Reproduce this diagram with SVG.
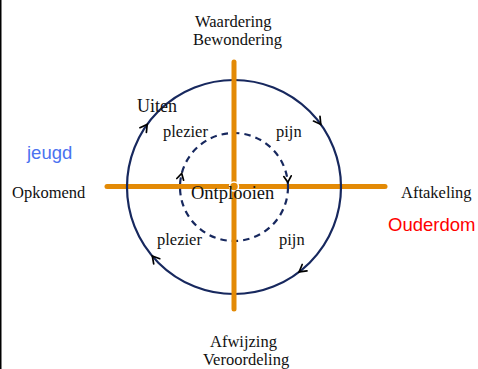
<svg xmlns="http://www.w3.org/2000/svg" width="478" height="369" viewBox="0 0 478 369">
<style>
.t{font-family:"Liberation Serif","Times New Roman",serif;font-size:16.5px;fill:#111}
.s{font-family:"Liberation Sans",Arial,sans-serif;font-size:18.5px}
.axis{stroke:#E38A06;stroke-width:5;stroke-linecap:round;fill:none}
.ring{stroke:#17285E;stroke-width:2.2;fill:none}
.dash{stroke:#17285E;stroke-width:2.2;fill:none;stroke-dasharray:6.5 5}
.arr{stroke:#000;stroke-width:1.7;fill:none;stroke-linecap:round;stroke-linejoin:miter}
</style>
<rect x="0" y="0" width="478" height="369" fill="#fff"/>
<line x1="0.75" y1="0" x2="0.75" y2="369" stroke="#000" stroke-width="1.5"/>
<g id="connectors">
  <line class="axis" x1="107" y1="186.5" x2="385" y2="186.5"/>
  <circle class="ring" cx="234" cy="187" r="107"/>
  <circle class="dash" cx="234" cy="187" r="54"/>
  <line class="axis" x1="234" y1="62" x2="234" y2="309"/>
  <polyline class="arr" points="139.9,127.7 147.2,124.4 146.4,132.4"/>
  <polyline class="arr" points="320.0,116.4 320.8,124.4 313.5,121.1"/>
  <polyline class="arr" points="307.0,270.9 299.1,271.9 302.2,264.5"/>
  <polyline class="arr" points="153.7,263.9 152.3,256.0 159.8,258.7"/>
  <polyline class="arr" points="291.2,175.8 287.8,182.3 283.8,176.6"/>
  <polyline class="arr" points="176.8,178.5 181.7,173.5 183.6,180.2"/>
  <circle cx="234" cy="186.5" r="4.5" fill="#E38A06" stroke="#fff" stroke-width="1.5"/>
</g>
<g id="top"><text class="t" x="195" y="27">Waardering</text><text class="t" x="193" y="45">Bewondering</text></g>
<g id="uiten"><text class="t" x="137" y="112" style="font-size:18px">Uiten</text></g>
<g id="plezier-top"><text class="t" x="163" y="137">plezier</text></g>
<g id="pijn-top"><text class="t" x="276" y="137">pijn</text></g>
<g id="center"><text class="t" x="191" y="199" style="font-size:18.5px">Ontplooien</text></g>
<g id="plezier-bottom"><text class="t" x="157" y="245">plezier</text></g>
<g id="pijn-bottom"><text class="t" x="279" y="245">pijn</text></g>
<g id="left"><text class="t" x="12" y="198">Opkomend</text></g>
<g id="right"><text class="t" x="401" y="198">Aftakeling</text></g>
<g id="jeugd"><text class="s" x="27" y="159" fill="#4A72F0">jeugd</text></g>
<g id="ouderdom"><text class="s" x="388" y="231" fill="#FF0000">Ouderdom</text></g>
<g id="bottom"><text class="t" x="210" y="347">Afwijzing</text><text class="t" x="203" y="365">Veroordeling</text></g>
</svg>
